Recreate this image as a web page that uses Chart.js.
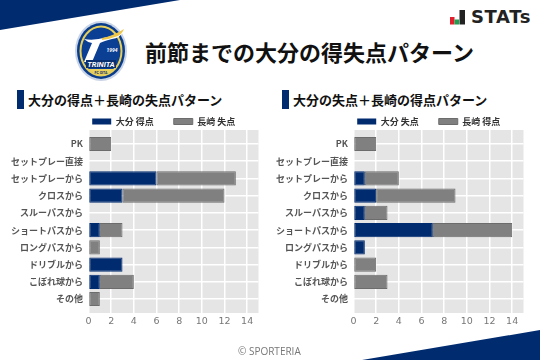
<!DOCTYPE html>
<html lang="ja">
<head>
<meta charset="utf-8">
<script src="https://cdn.jsdelivr.net/npm/chart.js@4"></script>
<style>
  html, body { margin: 0; padding: 0; background: #fff; }
  body { position: relative; width: 540px; height: 360px; overflow: hidden; font-family: "Noto Sans CJK JP", sans-serif; }
  canvas { position: absolute; top: 0; }
  #chartLeft { left: 0; }
  #chartRight { left: 265px; }
  .deco { position: absolute; left: 0; top: 0; }
  .title { position: absolute; left: 145px; top: 34px; font-size: 22px; font-weight: 700; line-height: 34px; color: #111; white-space: nowrap; }
  .sub { position: absolute; top: 90px; font-size: 13px; font-weight: 700; line-height: 19px; color: #111; white-space: nowrap; }
  .mark { position: absolute; top: 90px; width: 7px; height: 19px; background: #002b6f; }
  .stats { position: absolute; left: 471px; top: 5px; font: 700 18px/24px "DejaVu Sans", sans-serif; letter-spacing: .6px; color: #222; }
  .credit { position: absolute; left: 238px; top: 343px; font: 400 10px/16px "Open Sans", sans-serif; color: #777; }
</style>
</head>
<body>
<svg class="deco" width="540" height="360">
  <polygon points="0,0 180,0 0,30" fill="#002b6f"/>
  <polygon points="362,360 540,330 540,360" fill="#002b6f"/>
  <!-- stats icon -->
  <rect x="450" y="17" width="4.5" height="7.5" fill="#e0202c"/>
  <rect x="454.5" y="19.5" width="4.5" height="5" fill="#1fa050"/>
  <rect x="459.5" y="10" width="5.5" height="14.5" fill="#222"/>
  <!-- club badge -->
  <ellipse cx="101" cy="51" rx="26" ry="30" fill="#c9d4e6"/>
  <ellipse cx="101" cy="51" rx="24" ry="28" fill="#0a3c8c"/>
  <ellipse cx="101" cy="51" rx="21.5" ry="25.5" fill="#e8cf5a"/>
  <ellipse cx="101" cy="51" rx="19.5" ry="23.5" fill="#0b3f94"/>
  <path d="M84 39 Q100 42 124 31 Q120 38 112 39 Q104 41 100 43 L92 62 L84 62 L92 43 Q87 42 84 39Z" fill="#fff"/>
  <path d="M102 38 Q113 36 124 29 Q122 34 118 36 Q110 39 102 40Z" fill="#eec64a"/>
  <rect x="86" y="60" width="30" height="8" fill="#0a2f70"/>
  <text x="101" y="67" text-anchor="middle" font-family="Roboto" font-weight="700" font-style="italic" font-size="7.5" fill="#fff">TRINITA</text>
  <path d="M88 69 H114 Q108 75 101 75 Q94 75 88 69Z" fill="#ecd25c"/>
  <text x="101" y="73.5" text-anchor="middle" font-family="Roboto" font-weight="700" font-size="3.5" fill="#0a2f70">FC OITA</text>
  <text x="112" y="52" text-anchor="middle" font-family="Roboto" font-weight="700" font-style="italic" font-size="5" fill="#fff">1994</text>
</svg>
<div class="stats">STATs</div>
<div class="title">前節までの大分の得失点パターン</div>
<div class="mark" style="left:17px"></div>
<div class="sub" style="left:28px">大分の得点＋長崎の失点パターン</div>
<div class="mark" style="left:282px"></div>
<div class="sub" style="left:293px">大分の失点＋長崎の得点パターン</div>
<canvas id="chartLeft" width="275" height="360"></canvas>
<canvas id="chartRight" width="275" height="360"></canvas>
<div class="credit">© SPORTERIA</div>

<script>
// ---- Data ----
const categories = ['PK', 'セットプレー直接', 'セットプレーから', 'クロスから', 'スルーパスから', 'ショートパスから', 'ロングパスから', 'ドリブルから', 'こぼれ球から', 'その他'];
const oitaScored = [0, 0, 6, 3, 0, 1, 0, 3, 1, 0];
const nagasakiConceded = [2, 0, 7, 9, 0, 2, 1, 0, 3, 1];
const oitaConceded = [0, 0, 1, 2, 1, 7, 1, 0, 0, 0];
const nagasakiScored = [2, 0, 3, 7, 2, 7, 0, 2, 3, 0];
const xTicks = [0, 2, 4, 6, 8, 10, 12, 14];

const NAVY = '#002b6f';
const GRAY = '#808080';

const toPoints = values => values.map((v, i) => ({ x: v, y: i }));

// legend is padded for the gap between items: trim the height it reserves,
// and centre it over the block made of labels + plot
const placeLegend = {
  id: 'placeLegend',
  beforeLayout(chart) {
    const legend = chart.legend;
    if (legend.trimmed) return;
    const fit = legend.fit;
    legend.fit = function () {
      fit.call(this);
      this.height = 33;
    };
    legend.trimmed = true;
  },
  afterLayout(chart) {
    chart.legend.left = 69;
  }
};

const plotBackground = {
  id: 'plotBackground',
  beforeDraw(chart) {
    const { ctx, chartArea: a } = chart;
    ctx.save();
    ctx.fillStyle = '#e5e5e5';
    ctx.fillRect(a.left, a.top, a.right - a.left, a.bottom - a.top);
    ctx.restore();
  }
};

function makeChart(id, labelA, valuesA, labelB, valuesB) {
  const barStyle = (color, border) => ({
    backgroundColor: color,
    borderColor: border,
    borderWidth: c => (c.raw.x ? 1 : 0),
    borderSkipped: false,
    barPercentage: 0.82,
    categoryPercentage: 1
  });
  return new Chart(document.getElementById(id), {
    type: 'bar',
    data: {
      datasets: [
        { label: labelA, data: toPoints(valuesA), ...barStyle(NAVY, NAVY) },
        { label: labelB, data: toPoints(valuesB), ...barStyle(GRAY, '#6c6c6c') }
      ]
    },
    plugins: [placeLegend, plotBackground],
    options: {
      indexAxis: 'y',
      responsive: false,
      animation: false,
      layout: { padding: { left: 0, right: 16.5, top: 97, bottom: 27 } },
      plugins: {
        tooltip: { enabled: false },
        legend: {
          position: 'top',
          labels: {
            boxWidth: 19,
            boxHeight: 6,
            padding: 20,
            color: '#333',
            font: { family: '"Noto Sans CJK JP"', size: 9, weight: 'bold' }
          }
        }
      },
      scales: {
        x: {
          stacked: true,
          min: 0,
          max: 15,
          afterFit: s => { s.height = 20; },
          afterBuildTicks: s => { s.ticks = xTicks.map(v => ({ value: v })); },
          border: { display: false },
          grid: { color: '#fff', lineWidth: 1.5, drawTicks: false },
          ticks: {
            includeBounds: false,
            padding: 3,
            color: '#777',
            font: { family: '"DejaVu Sans"', size: 9.5 }
          }
        },
        y: {
          type: 'linear',
          stacked: true,
          reverse: true,
          offset: false,
          min: -0.81,
          max: 9.81,
          afterFit: s => { s.width = 88.5; },
          afterBuildTicks: s => { s.ticks = categories.map((c, i) => ({ value: i })); },
          border: { display: false },
          grid: { color: '#fff', lineWidth: 1.5, drawTicks: false, offset: false },
          ticks: {
            padding: 5.5,
            color: '#555',
            callback: v => categories[v],
            font: { family: '"Noto Sans CJK JP"', size: 9, weight: 'bold' }
          }
        }
      }
    }
  });
}

makeChart('chartLeft', '大分 得点', oitaScored, '長崎 失点', nagasakiConceded);
makeChart('chartRight', '大分 失点', oitaConceded, '長崎 得点', nagasakiScored);
</script>
</body>
</html>
